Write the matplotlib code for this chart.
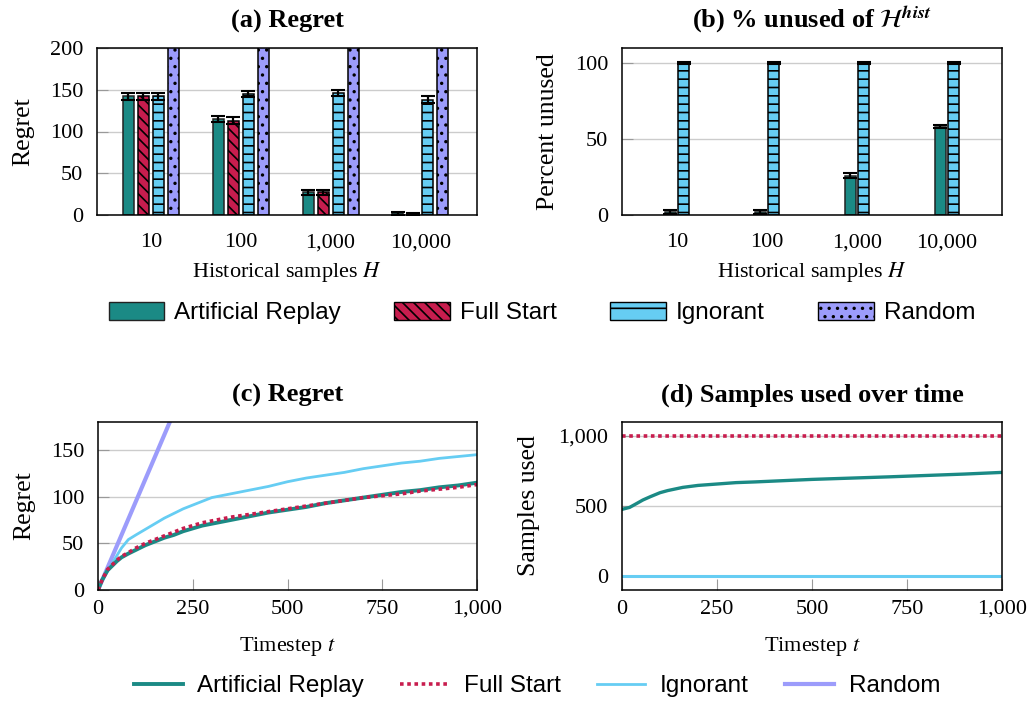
import matplotlib
matplotlib.use("Agg")
import matplotlib.pyplot as plt
import numpy as np
from matplotlib.ticker import MultipleLocator, StrMethodFormatter
from matplotlib.patches import Patch
from matplotlib.lines import Line2D

plt.rcParams['font.family'] = ['Liberation Serif', 'DejaVu Serif']
plt.rcParams['mathtext.fontset'] = 'stix'
plt.rcParams['hatch.linewidth'] = 1.2

# ---- data ----
groups = ["10", "100", "1,000", "10,000"]

regret_ar = [142, 115, 27, 2]
regret_ar_err = [4, 4, 3, 2]
regret_fs = [142, 113, 27, 1]
regret_fs_err = [4, 4, 3, 1.5]
regret_ig = [142, 145, 146, 138]
regret_ig_err = [4, 4, 4, 4]
regret_rand = [950, 950, 950, 950]

unused_ar = [2, 2, 26, 58]
unused_ar_err = [1.5, 1.5, 1.5, 1]
unused_ig = [100, 100, 100, 100]
unused_ig_err = [0.5, 0.5, 0.5, 0.5]

t_reg = [0, 10, 25, 50, 62, 80, 100, 125, 150, 175, 200, 225, 250, 275, 300, 350, 400, 450, 500,
         550, 600, 650, 700, 750, 800, 850, 900, 950, 1000]
cum_ar = [0, 10, 21, 31, 35, 39, 43, 48, 52, 56, 59, 63, 66, 69, 71, 75, 79, 83, 86,
          89, 93, 96, 99, 102, 105, 107, 110, 112, 115]
cum_fs = [0, 10, 22, 32, 36, 40, 45, 50, 54, 58, 62, 66, 69, 72, 74, 78, 81, 84, 87,
          90, 93, 96, 99, 101, 103, 106, 108, 110, 113]
cum_ig = [0, 9, 20, 37, 45, 54, 59, 65, 71, 77, 82, 87, 91, 95, 99, 103, 107, 111, 116,
          120, 123, 126, 130, 133, 136, 138, 141, 143, 145]
t_rand = [0, 100, 200, 1000]
cum_rand = [0, 95, 190, 950]

t_used = [0, 20, 40, 55, 75, 100, 120, 160, 200, 250, 300, 350, 400, 500, 600, 700, 800, 900, 1000]
used_ar = [476, 490, 520, 543, 567, 595, 610, 633, 647, 657, 667, 672, 678, 690, 699, 708, 718, 728, 740]
used_fs = [1000] * len(t_used)
used_ig = [0] * len(t_used)

# ---- style ----
c_ar = "#1b8a85"
c_fs = "#c81d4e"
c_ig = "#66cdf3"
c_rand = "#9c9cfb"
grid_c = "#cccccc"
tick_fs = 16
ylab_fs = 18.5
title_fs = 19
leg_prop = {'family': 'Liberation Sans', 'size': 17.5}

fig = plt.figure(figsize=(10.3, 7.02), dpi=100)
W, H = 1030, 702


def box(l, t, r, b):
    return [l / W, (H - b) / H, (r - l) / W, (b - t) / H]


ax_a = fig.add_axes(box(97, 48, 477, 215))
ax_b = fig.add_axes(box(622, 48, 1002, 215))
ax_c = fig.add_axes(box(98, 422, 477, 590))
ax_d = fig.add_axes(box(622, 422, 1002, 590))


def style(ax):
    ax.set_axisbelow(True)
    ax.yaxis.grid(True, color=grid_c, linewidth=1)
    ax.tick_params(direction='in', color='#999999', length=8, labelsize=tick_fs)
    ax.tick_params(axis='y', pad=10)
    for s in ax.spines.values():
        s.set_linewidth(1.1)


ebar = dict(ecolor='black', capsize=5, error_kw=dict(elinewidth=1.6, capthick=1.5))
x = np.arange(len(groups))
bw = 0.122
step = 0.167

# (a) regret bars
ax_a.bar(x - 1.5 * step, regret_ar, bw, yerr=regret_ar_err, color=c_ar, edgecolor='#222222', linewidth=1.1, **ebar)
ax_a.bar(x - 0.5 * step, regret_fs, bw, yerr=regret_fs_err, color=c_fs, edgecolor='black', linewidth=1.1, hatch='\\\\\\', **ebar)
ax_a.bar(x + 0.5 * step, regret_ig, bw, yerr=regret_ig_err, color=c_ig, edgecolor='black', linewidth=1.1, hatch='--', **ebar)
ax_a.bar(x + 1.5 * step, regret_rand, bw, color=c_rand, edgecolor='black', linewidth=1.1, hatch='..')
ax_a.set_ylim(0, 200)
ax_a.set_xlim(-0.6, 3.63)
ax_a.yaxis.set_major_locator(MultipleLocator(50))
ax_a.set_xticks(x, groups)
style(ax_a)
ax_a.tick_params(axis='x', length=0, pad=13)
ax_a.set_ylabel("Regret", fontsize=ylab_fs, labelpad=11)
ax_a.set_xlabel("Historical samples $H$", fontsize=tick_fs, labelpad=6)
ax_a.set_title("(a) Regret", fontsize=title_fs, fontweight='bold', pad=15)

# (b) percent unused
ax_b.bar(x - 0.075, unused_ar, bw, yerr=unused_ar_err, color=c_ar, edgecolor='#222222', linewidth=1.1, **ebar)
ax_b.bar(x + 0.075, unused_ig, bw, yerr=unused_ig_err, color=c_ig, edgecolor='black', linewidth=1.1, hatch='--', **ebar)
ax_b.set_ylim(0, 110)
ax_b.set_xlim(-0.61, 3.61)
ax_b.yaxis.set_major_locator(MultipleLocator(50))
ax_b.set_xticks(x, groups)
style(ax_b)
ax_b.tick_params(axis='x', length=0, pad=13)
ax_b.set_ylabel("Percent unused", fontsize=ylab_fs, labelpad=11)
ax_b.set_xlabel("Historical samples $H$", fontsize=tick_fs, labelpad=6)
ax_b.set_title(r"(b) % unused of $\mathcal{H}^{\mathbfit{hist}}$", fontsize=title_fs, fontweight='bold', pad=15)

# (c) cumulative regret
ax_c.plot(t_rand, cum_rand, color=c_rand, linewidth=3)
ax_c.plot(t_reg, cum_ig, color=c_ig, linewidth=2)
ax_c.plot(t_reg, cum_ar, color=c_ar, linewidth=2.8)
ax_c.plot(t_reg, cum_fs, color=c_fs, linewidth=2.6, linestyle=(0, (1, 1)))
ax_c.set_xlim(0, 1000)
ax_c.set_ylim(0, 180)
ax_c.xaxis.set_major_locator(MultipleLocator(250))
ax_c.yaxis.set_major_locator(MultipleLocator(50))
ax_c.xaxis.set_major_formatter(StrMethodFormatter('{x:,.0f}'))
style(ax_c)
ax_c.tick_params(axis='x', pad=7)
ax_c.set_ylabel("Regret", fontsize=ylab_fs, labelpad=11)
ax_c.set_xlabel("Timestep $t$", fontsize=tick_fs, labelpad=12)
ax_c.set_title("(c) Regret", fontsize=title_fs, fontweight='bold', pad=15)

# (d) samples used
ax_d.plot(t_used, used_ig, color=c_ig, linewidth=2.2)
ax_d.plot(t_used, used_ar, color=c_ar, linewidth=2.4)
ax_d.plot(t_used, used_fs, color=c_fs, linewidth=2.6, linestyle=(0, (1, 1)))
ax_d.set_xlim(0, 1000)
ax_d.set_ylim(-100, 1100)
ax_d.xaxis.set_major_locator(MultipleLocator(250))
ax_d.yaxis.set_major_locator(MultipleLocator(500))
ax_d.xaxis.set_major_formatter(StrMethodFormatter('{x:,.0f}'))
ax_d.yaxis.set_major_formatter(StrMethodFormatter('{x:,.0f}'))
style(ax_d)
ax_d.tick_params(axis='x', pad=7)
ax_d.set_ylabel("Samples used", fontsize=ylab_fs, labelpad=13)
ax_d.set_xlabel("Timestep $t$", fontsize=tick_fs, labelpad=12)
ax_d.set_title("(d) Samples used over time", fontsize=title_fs, fontweight='bold', pad=15)

# legends
names = ["Artificial Replay", "Full Start", "Ignorant", "Random"]
bar_handles = [
    Patch(facecolor=c_ar, edgecolor='#222222', label=names[0]),
    Patch(facecolor=c_fs, edgecolor='black', hatch='\\\\\\', label=names[1]),
    Patch(facecolor=c_ig, edgecolor='black', hatch='-', label=names[2]),
    Patch(facecolor=c_rand, edgecolor='black', hatch='..', label=names[3]),
]
fig.legend(handles=bar_handles, loc='center', bbox_to_anchor=(542 / W, (H - 313) / H),
           ncol=4, frameon=False, prop=leg_prop,
           handlelength=2.3, handleheight=0.75, columnspacing=2.2, handletextpad=0.4)

line_handles = [
    Line2D([], [], color=c_ar, linewidth=2.8, label=names[0]),
    Line2D([], [], color=c_fs, linewidth=2.6, linestyle=(0, (1, 1)), label=names[1]),
    Line2D([], [], color=c_ig, linewidth=2, label=names[2]),
    Line2D([], [], color=c_rand, linewidth=3, label=names[3]),
]
fig.legend(handles=line_handles, loc='center', bbox_to_anchor=(537 / W, (H - 686) / H),
           ncol=4, frameon=False, prop=leg_prop,
           handlelength=2.0, columnspacing=1.5, handletextpad=0.6)

fig.savefig("out.png", dpi=100)
